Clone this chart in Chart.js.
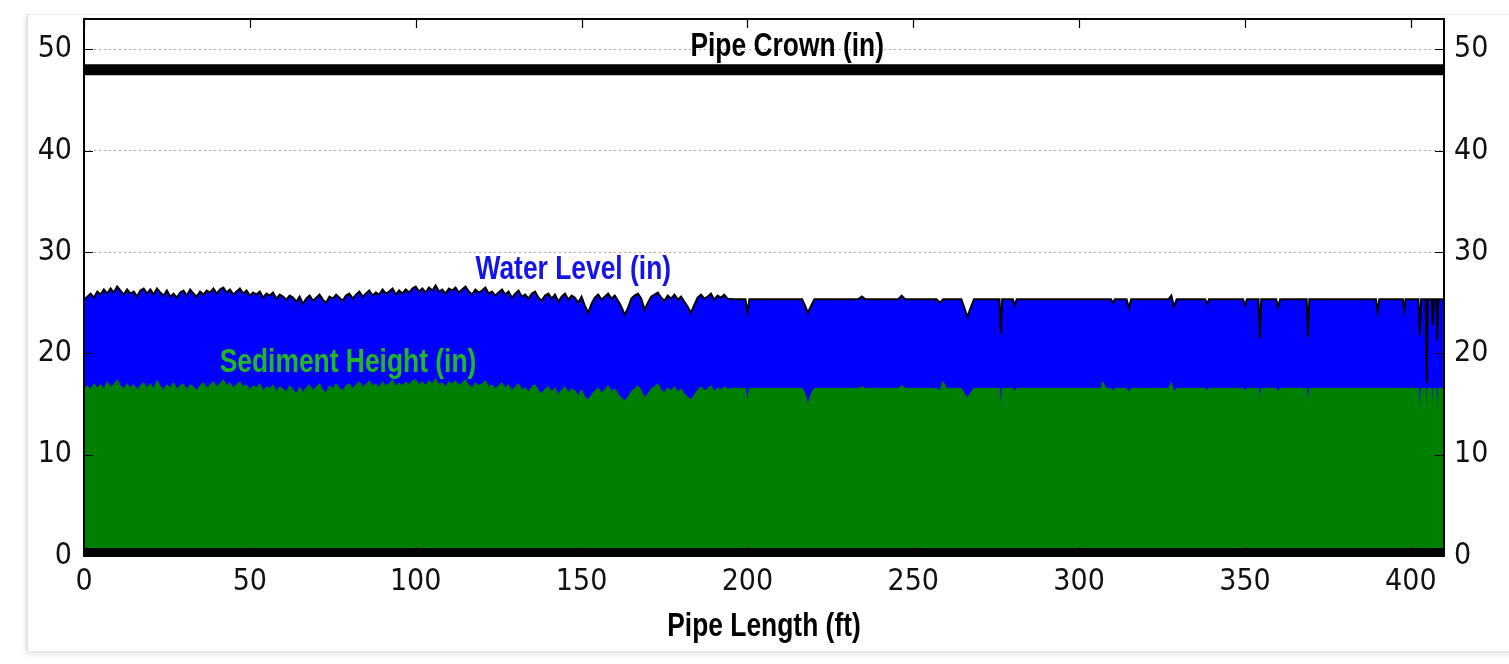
<!DOCTYPE html>
<html>
<head>
<meta charset="utf-8">
<title>Pipe profile</title>
<script src="https://cdn.jsdelivr.net/npm/chart.js@4/dist/chart.umd.min.js"></script>
<style>
  html, body { margin: 0; padding: 0; background: #fff; }
  body { width: 1509px; height: 664px; position: relative; overflow: hidden; }
  .card {
    position: absolute; left: 26px; top: 14px; width: 1500px; height: 636px;
    border-left: 2px solid #e4e4e4; border-top: 1px solid #eeeeee;
    box-shadow: 0 3px 6px rgba(0,0,0,0.12);
    background: #fff;
  }
  .wrap { position: absolute; left: 0; top: 0; width: 1509px; height: 664px; }
</style>
</head>
<body>
<div class="card"></div>
<div class="wrap"><canvas id="grafico"></canvas></div>
<script>
// posição ao longo do tubo (ft)
const pipeFt = [
  0, 1, 2, 3, 4, 5, 6, 7, 8, 9, 10, 11, 12, 13, 14, 15, 16, 17, 18, 19,
  20, 21, 22, 23, 24, 25, 26, 27, 28, 29, 30, 31, 32, 33, 34, 35, 36, 37, 38, 39,
  40, 41, 42, 43, 44, 45, 46, 47, 48, 49, 50, 51, 52, 53, 54, 55, 56, 57, 58, 59,
  60, 61, 62, 63, 64, 65, 66, 67, 68, 69, 70, 71, 72, 73, 74, 75, 76, 77, 78, 79,
  80, 81, 82, 83, 84, 85, 86, 87, 88, 89, 90, 91, 92, 93, 94, 95, 96, 97, 98, 99,
  100, 101, 102, 103, 104, 105, 106, 107, 108, 109, 110, 111, 112, 113, 114, 115, 116, 117, 118, 119,
  120, 121, 122, 123, 124, 125, 126, 127, 128, 129, 130, 131, 132, 133, 134, 135, 136, 137, 138, 139,
  140, 141, 142, 143, 144, 145, 146, 147, 148, 149, 150, 151, 152, 153, 154, 155, 156, 157, 158, 159,
  160, 161, 162, 163, 164, 165, 166, 167, 168, 169, 170, 171, 172, 173, 174, 175, 176, 177, 178, 179,
  180, 181, 182, 183, 184, 185, 186, 187, 188, 189, 190, 191, 192, 193, 194,
  196, 199.4, 200, 200.6, 216.5, 217.5, 218.2, 219.2, 220.2, 233.5, 234.5, 235.5,
  245.5, 246.5, 247.5, 257, 258, 259, 260, 264.5, 265.5, 266.3, 267.3, 268.3,
  276, 276.4, 276.8, 280, 280.6, 281.2, 306.5, 307.2, 308, 309.6, 310.2, 310.8,
  314.3, 315, 315.7, 327, 327.8, 328.6, 329.4, 338, 338.6, 339.2, 349.4, 350, 350.6,
  354.1, 354.5, 354.9, 359.4, 360, 360.6, 368.6, 369, 369.4, 389.5, 390, 390.5,
  397.6, 398, 398.4, 402.3, 402.7, 403.1, 404.5, 404.8, 405.1, 406.3, 406.6, 406.9,
  407.7, 408, 408.3, 410
];

// nível de água (in)
const waterIn = [
  25.3, 25.6, 25.9, 25.5, 26.1, 25.8, 26.3, 25.9, 26.4, 26.0, 26.6, 26.2, 25.8, 26.3, 25.9, 26.1, 25.6, 26.2, 26.4, 25.9,
  26.3, 25.8, 26.4, 26.0, 25.7, 26.2, 25.6, 25.9, 25.5, 26.0, 26.2, 25.7, 26.3, 25.9, 25.6, 26.1, 25.8, 26.2, 26.0, 26.4,
  25.9, 26.3, 26.5, 26.0, 26.3, 25.8, 26.1, 26.4, 25.9, 26.2, 25.7, 26.0, 25.8, 26.1, 25.5, 25.9, 25.7, 26.0, 25.4, 25.8,
  25.6, 25.3, 25.7, 25.5, 25.1, 25.6, 24.9, 25.4, 25.7, 25.2, 25.5, 25.8, 25.3, 25.0, 25.6, 25.4, 25.8, 25.5, 25.2, 25.7,
  25.9, 25.4, 25.8, 26.1, 25.6, 25.9, 26.2, 25.7, 26.0, 25.8, 26.3, 25.9, 26.1, 26.4, 25.8, 26.2, 25.9, 26.3, 26.0, 26.4,
  26.6, 26.1, 26.4, 26.0, 26.5, 26.2, 26.7, 26.1, 26.3, 25.9, 26.4, 26.2, 26.5, 26.0, 26.3, 26.6, 26.1, 25.8, 26.3, 26.0,
  26.2, 26.5, 25.9, 26.1, 25.7, 26.0, 26.3, 25.8, 26.1, 25.5, 25.9, 26.2, 25.6, 25.8, 25.4, 25.9, 26.1, 25.5, 25.2, 25.7,
  25.9, 25.4, 25.8, 25.1, 25.6, 25.9, 25.3, 25.7, 25.5, 25.0, 25.6, 24.7, 24.0, 24.9, 25.5, 25.8, 25.3, 25.6, 25.9, 25.4,
  25.7, 25.2, 24.6, 23.8, 24.5, 25.4, 25.7, 25.9, 25.4, 24.3, 25.0, 25.6, 25.8, 26.0, 25.5, 25.2, 25.7, 25.4, 25.8, 25.3,
  25.6, 25.1, 24.6, 24.0, 24.8, 25.5, 25.8, 25.4, 25.6, 25.9, 25.3, 25.7, 25.5, 25.8, 25.4,
  25.35, 25.35, 24.1, 25.35, 25.35, 24.6, 24.0, 24.7, 25.35, 25.35, 25.6, 25.35,
  25.35, 25.7, 25.35, 25.35, 25.0, 25.35, 25.35, 25.35, 24.4, 23.6, 24.5, 25.35,
  25.35, 22.0, 25.35, 25.35, 24.8, 25.35, 25.35, 25.35, 25.35, 25.35, 25.0, 25.35,
  25.35, 24.5, 25.35, 25.35, 25.7, 24.6, 25.35, 25.35, 24.9, 25.35, 25.35, 24.8, 25.35,
  25.35, 21.5, 25.35, 25.35, 24.6, 25.35, 25.35, 21.6, 25.35, 25.35, 24.1, 25.35,
  25.35, 24.3, 25.35, 25.35, 21.8, 25.35, 25.35, 17.1, 25.35, 25.35, 22.8, 25.35,
  25.35, 21.3, 25.35, 25.35
];

// altura de sedimento (in)
const sedimentIn = [
  16.5, 16.8, 16.4, 17.0, 16.6, 16.9, 16.5, 17.2, 16.7, 16.9, 17.4, 16.8, 16.5, 17.0, 16.6, 16.9, 16.4, 16.8, 17.1, 16.6,
  17.0, 16.5, 17.3, 16.8, 16.4, 16.9, 16.6, 17.1, 16.5, 16.8, 17.0, 16.4, 16.9, 16.7, 16.3, 16.8, 17.1, 16.6, 16.9, 17.2,
  16.7, 17.0, 17.4, 16.8, 17.1, 16.6, 16.9, 17.2, 16.7, 16.9, 16.4, 16.8, 16.6, 17.0, 16.3, 16.7, 16.5, 16.9, 16.2, 16.7,
  16.5, 16.2, 16.8, 16.4, 16.0, 16.7, 16.1, 16.6, 16.9, 16.3, 16.7, 17.0, 16.4, 16.1, 16.8, 16.5, 17.0, 16.6, 16.3, 16.8,
  17.0, 16.5, 16.9, 17.2, 16.7, 16.9, 17.3, 16.8, 17.0, 16.6, 17.2, 16.8, 17.0, 17.4, 16.7, 17.1, 16.8, 17.2, 16.9, 17.3,
  17.4, 16.9, 17.2, 16.8, 17.3, 17.0, 17.5, 16.9, 17.1, 16.7, 17.2, 17.0, 17.3, 16.8, 17.1, 17.4, 16.9, 16.6, 17.1, 16.8,
  17.0, 17.3, 16.7, 16.9, 16.5, 16.8, 17.1, 16.6, 16.9, 16.3, 16.7, 17.0, 16.4, 16.6, 16.2, 16.7, 16.9, 16.3, 16.0, 16.5,
  16.7, 16.2, 16.6, 15.9, 16.4, 16.7, 16.1, 16.5, 16.3, 15.8, 16.4, 15.7, 15.4, 15.9, 16.3, 16.6, 16.1, 16.4, 16.8, 16.2,
  16.5, 16.0, 15.6, 15.3, 15.7, 16.2, 16.5, 16.8, 16.3, 15.6, 16.0, 16.5, 16.7, 17.0, 16.4, 16.1, 16.6, 16.3, 16.7, 16.2,
  16.5, 16.0, 15.7, 15.4, 15.9, 16.4, 16.7, 16.3, 16.5, 16.8, 16.2, 16.6, 16.4, 16.7, 16.5,
  16.55, 16.55, 15.2, 16.55, 16.55, 16.0, 14.9, 16.0, 16.55, 16.55, 16.7, 16.55,
  16.55, 16.8, 16.55, 16.55, 16.3, 17.2, 16.55, 16.55, 16.0, 15.6, 16.1, 16.55,
  16.55, 13.9, 16.55, 16.55, 16.2, 16.55, 16.55, 17.2, 16.55, 16.55, 16.3, 16.55,
  16.55, 16.1, 16.55, 16.55, 17.1, 16.2, 16.55, 16.55, 16.3, 16.55, 16.55, 16.3, 16.55,
  16.55, 15.1, 16.55, 16.55, 16.2, 16.55, 16.55, 14.6, 16.55, 16.55, 16.55, 16.55,
  16.55, 16.55, 16.55, 16.55, 13.7, 16.55, 16.55, 13.9, 16.55, 16.55, 14.5, 16.55,
  16.55, 13.6, 16.55, 16.55
];

// coroa do tubo e fundo (in)
const pipeCrownIn = 48;
const pipeInvertIn = 0;
const pipeEnds = [0, 410];

// rótulos e eixos
const xTicks = [0, 50, 100, 150, 200, 250, 300, 350, 400];
const yTicks = [0, 10, 20, 30, 40, 50];
const xTitulo = 'Pipe Length (ft)';
const rotulos = [
  { texto: 'Pipe Crown (in)', x: 212, y: 50.2, cor: '#000000' },
  { texto: 'Water Level (in)', x: 147.5, y: 28.2, cor: '#1414e6' },
  { texto: 'Sediment Height (in)', x: 79.6, y: 19.1, cor: '#22b822' }
];

// fonte estreita: Liberation Sans bold comprimida na horizontal
const fonteRotulo = 'bold 33px "Liberation Sans", Arial, sans-serif';
const compressao = 0.8;
const fonteTicks = '"DejaVu Sans Condensed", "DejaVu Sans", sans-serif';

function pontos(xs, ys) {
  return xs.map((x, i) => ({ x: x, y: ys[i] }));
}

function textoEstreito(ctx, texto, px, py) {
  ctx.save();
  ctx.translate(px, py);
  ctx.scale(compressao, 1);
  ctx.fillText(texto, 0, 0);
  ctx.restore();
}

// texto dentro do gráfico, posicionado pelas escalas
const pluginRotulos = {
  id: 'rotulos',
  afterDatasetsDraw(chart) {
    const ctx = chart.ctx;
    const sx = chart.scales.x, sy = chart.scales.y;
    ctx.save();
    ctx.font = fonteRotulo;
    ctx.textAlign = 'center';
    ctx.textBaseline = 'middle';
    rotulos.forEach(r => {
      ctx.fillStyle = r.cor;
      textoEstreito(ctx, r.texto, sx.getPixelForValue(r.x), sy.getPixelForValue(r.y));
    });
    // título do eixo x
    const a = chart.chartArea;
    ctx.fillStyle = '#000';
    textoEstreito(ctx, xTitulo, (a.left + a.right) / 2, a.bottom + 71);
    ctx.restore();
  }
};

// moldura e marcas para dentro, como no matplotlib
const pluginMoldura = {
  id: 'moldura',
  afterDraw(chart) {
    const ctx = chart.ctx;
    const a = chart.chartArea;
    const sx = chart.scales.x, sy = chart.scales.y;
    ctx.save();
    ctx.strokeStyle = '#000';
    ctx.lineWidth = 2;
    ctx.strokeRect(a.left, a.top, a.right - a.left, a.bottom - a.top);
    ctx.lineWidth = 1.2;
    ctx.beginPath();
    xTicks.forEach(v => {
      const px = Math.round(sx.getPixelForValue(v)) + 0.5;
      ctx.moveTo(px, a.top); ctx.lineTo(px, a.top + 9);
      ctx.moveTo(px, a.bottom); ctx.lineTo(px, a.bottom - 9);
    });
    yTicks.forEach(v => {
      const py = Math.round(sy.getPixelForValue(v)) + 0.5;
      ctx.moveTo(a.left, py); ctx.lineTo(a.left + 9, py);
      ctx.moveTo(a.right, py); ctx.lineTo(a.right - 9, py);
    });
    ctx.stroke();
    ctx.restore();
  }
};

function ticksFixos(lista) {
  return function (scale) {
    scale.ticks = lista.map(v => ({ value: v }));
  };
}

function semFolga(scale) {
  scale.paddingTop = 0;
  scale.paddingBottom = 0;
  scale.paddingLeft = 0;
  scale.paddingRight = 0;
}

document.addEventListener('DOMContentLoaded', function () {
  const canvas = document.getElementById('grafico');
  new Chart(canvas, {
    type: 'line',
    data: {
      datasets: [
        {
          label: 'Sediment Height (in)',
          data: pontos(pipeFt, sedimentIn),
          borderColor: '#008000',
          borderWidth: 1,
          backgroundColor: '#008000',
          fill: 'origin',
          pointRadius: 0,
          tension: 0,
          order: 1
        },
        {
          label: 'Water Level (in)',
          data: pontos(pipeFt, waterIn),
          borderColor: '#000000',
          borderWidth: 2,
          backgroundColor: '#0000ff',
          fill: 'origin',
          pointRadius: 0,
          tension: 0,
          order: 2
        },
        {
          label: 'Pipe Crown (in)',
          data: pipeEnds.map(x => ({ x: x, y: pipeCrownIn })),
          borderColor: '#000000',
          borderWidth: 11,
          pointRadius: 0,
          fill: false,
          clip: 0,
          order: 0
        },
        {
          label: 'Invert',
          data: pipeEnds.map(x => ({ x: x, y: pipeInvertIn })),
          borderColor: '#000000',
          borderWidth: 16,
          pointRadius: 0,
          fill: false,
          clip: 0,
          order: 0
        }
      ]
    },
    options: {
      responsive: true,
      maintainAspectRatio: false,
      animation: false,
      layout: { padding: { top: 19, left: 0, right: 0, bottom: 0 } },
      plugins: {
        legend: { display: false },
        tooltip: { enabled: false }
      },
      scales: {
        x: {
          type: 'linear',
          min: 0,
          max: 410,
          ticks: { color: '#111', padding: 8, maxRotation: 0, autoSkip: false, font: { family: fonteTicks, size: 30 } },
          afterBuildTicks: ticksFixos(xTicks),
          grid: { display: false, drawTicks: false },
          border: { display: false },
          afterFit(scale) { semFolga(scale); scale.height = 108; }
        },
        y: {
          type: 'linear',
          position: 'left',
          min: 0,
          max: 53,
          ticks: { color: '#111', padding: 12, autoSkip: false, font: { family: fonteTicks, size: 30 } },
          afterBuildTicks: ticksFixos(yTicks),
          grid: { color: '#a8a8a8', lineWidth: 1, drawTicks: false },
          border: { display: false, dash: [2, 3] },
          afterFit(scale) { semFolga(scale); scale.width = 84; }
        },
        y2: {
          type: 'linear',
          position: 'right',
          min: 0,
          max: 53,
          ticks: { color: '#111', padding: 10, autoSkip: false, font: { family: fonteTicks, size: 30 } },
          afterBuildTicks: ticksFixos(yTicks),
          grid: { display: false, drawTicks: false },
          border: { display: false },
          afterFit(scale) { semFolga(scale); scale.width = 65; }
        }
      }
    },
    plugins: [pluginRotulos, pluginMoldura]
  });
});
</script>
</body>
</html>
